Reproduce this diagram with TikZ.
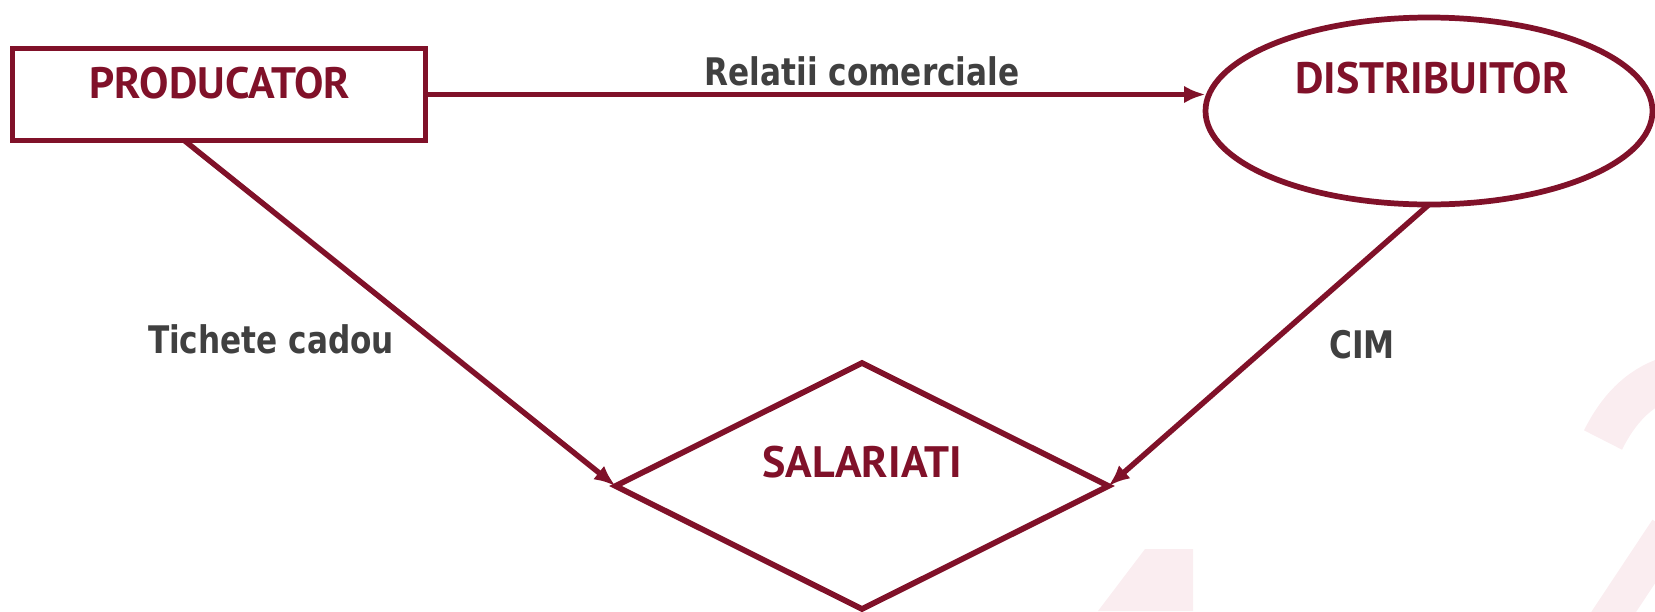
\documentclass[tikz,border=0pt]{standalone}
\usepackage{fontspec}
\usepackage{tikz}
\usetikzlibrary{shapes,arrows,arrows.meta,positioning,calc}
\newfontfamily\boxfont{PT Sans}
\newfontfamily\edgefont{DejaVu Sans}[FakeStretch=0.82]
\definecolor{wine}{RGB}{128,17,41}
\definecolor{edgegray}{RGB}{64,64,64}
\definecolor{wmpink}{RGB}{250,237,240}

\begin{document}
\begin{tikzpicture}[x=0.75pt, y=-0.75pt, >={Latex[length=16pt,width=13pt]},
  shapebox/.style={draw=wine, line width=4.3pt, inner sep=0pt, outer sep=0pt},
  nametext/.style={text=wine, font=\boxfont\bfseries\fontsize{33}{39}\selectfont, inner sep=0pt, anchor=base},
  edgetext/.style={text=edgegray, font=\edgefont\bfseries\fontsize{28.5}{34}\selectfont, inner sep=0pt, anchor=base},
  link/.style={->, draw=wine, line width=4.1pt}]
  \useasboundingbox (0,0) rectangle (1655,611);
  \fill [wmpink] (1098,611) -- (1145,549) -- (1193,549) -- (1193,611) -- cycle;
  \draw [wmpink, line width=32pt] (1603,440) .. controls (1618,410) and (1638,388) .. (1668,378);
  \draw [wmpink, line width=28pt] (1605,625) -- (1668,530);

  \node [shapebox, rectangle, minimum width=309.75pt, minimum height=69pt] (prod) at (219,94.5) {};
  \node [shapebox, ellipse, minimum width=335.25pt, minimum height=140.25pt] (dist) at (1429,111) {};
  \node [shapebox, diamond, minimum width=369.75pt, minimum height=184.5pt] (sal) at (862,486) {};

  \node [nametext] (prodname) at ($(prod.center)+(1,3.5)$) {PRODUCATOR};
  \node [nametext] (distname) at ($(dist.center)+(3,-18)$) {DISTRIBUITOR};
  \node [nametext] (salname) at ($(sal.center)+(0,-9)$) {SALARIATI};

  \draw [link] (prod.east) -- (prod.east -| dist.west);
  \draw [link] (prod.233.5) -- (sal.west);
  \draw [link] (dist.south) -- (sal.east);

  \node [edgetext] (relatii) at (862,85) {Relatii comerciale};
  \node [edgetext] (tichete) at (271,353) {Tichete cadou};
  \node [edgetext] (cim) at (1362,358) {CIM};
\end{tikzpicture}
\end{document}
